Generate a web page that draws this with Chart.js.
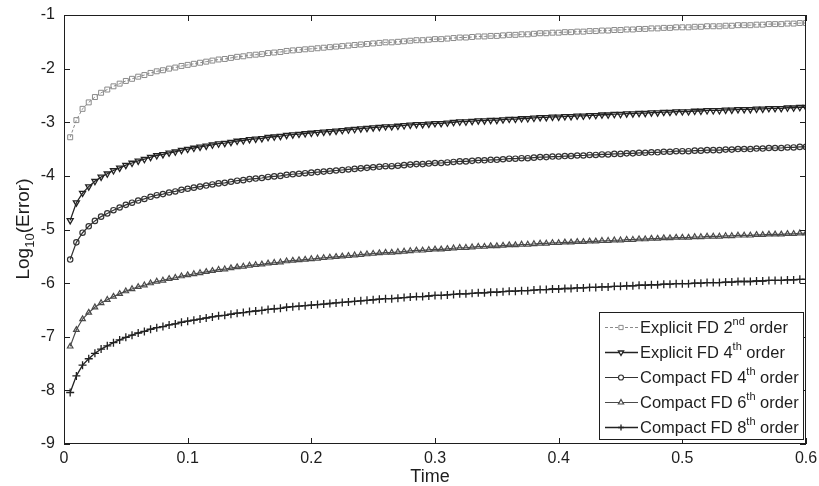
<!DOCTYPE html>
<html>
<head>
<meta charset="utf-8">
<script src="https://cdn.jsdelivr.net/npm/chart.js@4.4.1/dist/chart.umd.min.js"></script>
<style>
  html, body { margin: 0; padding: 0; background: #fff; }
  #wrap { width: 819px; height: 486px; }
</style>
</head>
<body>
<div id="wrap"><canvas id="errChart" width="819" height="486"></canvas></div>
<script>
// ==========================================
// DATA
// ==========================================
const times = [
  0.005, 0.010, 0.015, 0.020, 0.025, 0.030, 0.035, 0.040, 0.045, 0.050,
  0.055, 0.060, 0.065, 0.070, 0.075, 0.080, 0.085, 0.090, 0.095, 0.100,
  0.105, 0.110, 0.115, 0.120, 0.125, 0.130, 0.135, 0.140, 0.145, 0.150,
  0.155, 0.160, 0.165, 0.170, 0.175, 0.180, 0.185, 0.190, 0.195, 0.200,
  0.205, 0.210, 0.215, 0.220, 0.225, 0.230, 0.235, 0.240, 0.245, 0.250,
  0.255, 0.260, 0.265, 0.270, 0.275, 0.280, 0.285, 0.290, 0.295, 0.300,
  0.305, 0.310, 0.315, 0.320, 0.325, 0.330, 0.335, 0.340, 0.345, 0.350,
  0.355, 0.360, 0.365, 0.370, 0.375, 0.380, 0.385, 0.390, 0.395, 0.400,
  0.405, 0.410, 0.415, 0.420, 0.425, 0.430, 0.435, 0.440, 0.445, 0.450,
  0.455, 0.460, 0.465, 0.470, 0.475, 0.480, 0.485, 0.490, 0.495, 0.500,
  0.505, 0.510, 0.515, 0.520, 0.525, 0.530, 0.535, 0.540, 0.545, 0.550,
  0.555, 0.560, 0.565, 0.570, 0.575, 0.580, 0.585, 0.590, 0.595, 0.600
];

const explicit2 = [
  -3.28,-2.96,-2.75,-2.63,-2.53,-2.45,-2.39,-2.33,-2.28,-2.23,
  -2.19,-2.15,-2.12,-2.08,-2.05,-2.03,-2.00,-1.98,-1.95,-1.93,
  -1.91,-1.89,-1.87,-1.85,-1.83,-1.82,-1.80,-1.78,-1.77,-1.75,
  -1.74,-1.73,-1.71,-1.70,-1.69,-1.67,-1.66,-1.65,-1.64,-1.63,
  -1.62,-1.61,-1.60,-1.59,-1.58,-1.57,-1.56,-1.55,-1.54,-1.53,
  -1.52,-1.51,-1.51,-1.50,-1.49,-1.48,-1.47,-1.47,-1.46,-1.45,
  -1.45,-1.44,-1.43,-1.42,-1.42,-1.41,-1.40,-1.40,-1.39,-1.39,
  -1.38,-1.37,-1.37,-1.36,-1.36,-1.35,-1.34,-1.34,-1.33,-1.33,
  -1.32,-1.32,-1.31,-1.31,-1.30,-1.30,-1.29,-1.29,-1.28,-1.28,
  -1.27,-1.27,-1.26,-1.26,-1.25,-1.25,-1.24,-1.24,-1.23,-1.23,
  -1.23,-1.22,-1.22,-1.21,-1.21,-1.21,-1.20,-1.20,-1.19,-1.19,
  -1.19,-1.18,-1.18,-1.17,-1.17,-1.17,-1.16,-1.16,-1.15,-1.15
];

const explicit4 = [
  -4.83,-4.50,-4.32,-4.20,-4.10,-4.02,-3.96,-3.90,-3.85,-3.80,
  -3.76,-3.72,-3.69,-3.65,-3.62,-3.60,-3.57,-3.55,-3.52,-3.50,
  -3.48,-3.46,-3.44,-3.42,-3.40,-3.39,-3.37,-3.35,-3.34,-3.32,
  -3.31,-3.30,-3.28,-3.27,-3.26,-3.24,-3.23,-3.22,-3.21,-3.20,
  -3.19,-3.18,-3.17,-3.16,-3.15,-3.14,-3.13,-3.12,-3.11,-3.10,
  -3.09,-3.08,-3.08,-3.07,-3.06,-3.05,-3.04,-3.04,-3.03,-3.02,
  -3.02,-3.01,-3.00,-2.99,-2.99,-2.98,-2.97,-2.97,-2.96,-2.96,
  -2.95,-2.94,-2.94,-2.93,-2.93,-2.92,-2.91,-2.91,-2.90,-2.90,
  -2.89,-2.89,-2.88,-2.88,-2.87,-2.87,-2.86,-2.86,-2.85,-2.85,
  -2.84,-2.84,-2.83,-2.83,-2.82,-2.82,-2.81,-2.81,-2.80,-2.80,
  -2.80,-2.79,-2.79,-2.78,-2.78,-2.78,-2.77,-2.77,-2.76,-2.76,
  -2.76,-2.75,-2.75,-2.74,-2.74,-2.74,-2.73,-2.73,-2.72,-2.72
];

const compact4 = [
  -5.56,-5.24,-5.06,-4.94,-4.84,-4.76,-4.70,-4.64,-4.59,-4.54,
  -4.50,-4.46,-4.43,-4.39,-4.36,-4.34,-4.31,-4.29,-4.26,-4.24,
  -4.22,-4.20,-4.18,-4.16,-4.14,-4.13,-4.11,-4.09,-4.08,-4.06,
  -4.05,-4.04,-4.02,-4.01,-4.00,-3.98,-3.97,-3.96,-3.95,-3.94,
  -3.93,-3.92,-3.91,-3.90,-3.89,-3.88,-3.87,-3.86,-3.85,-3.84,
  -3.83,-3.82,-3.82,-3.81,-3.80,-3.79,-3.78,-3.78,-3.77,-3.76,
  -3.76,-3.75,-3.74,-3.73,-3.73,-3.72,-3.71,-3.71,-3.70,-3.70,
  -3.69,-3.68,-3.68,-3.67,-3.67,-3.66,-3.65,-3.65,-3.64,-3.64,
  -3.63,-3.63,-3.62,-3.62,-3.61,-3.61,-3.60,-3.60,-3.59,-3.59,
  -3.58,-3.58,-3.57,-3.57,-3.56,-3.56,-3.55,-3.55,-3.54,-3.54,
  -3.54,-3.53,-3.53,-3.52,-3.52,-3.52,-3.51,-3.51,-3.50,-3.50,
  -3.50,-3.49,-3.49,-3.48,-3.48,-3.48,-3.47,-3.47,-3.46,-3.46
];

const compact6 = [
  -7.18,-6.87,-6.67,-6.55,-6.45,-6.37,-6.31,-6.25,-6.20,-6.15,
  -6.11,-6.07,-6.04,-6.00,-5.97,-5.95,-5.92,-5.90,-5.87,-5.85,
  -5.83,-5.81,-5.79,-5.77,-5.75,-5.74,-5.72,-5.70,-5.69,-5.67,
  -5.66,-5.65,-5.63,-5.62,-5.61,-5.59,-5.58,-5.57,-5.56,-5.55,
  -5.54,-5.53,-5.52,-5.51,-5.50,-5.49,-5.48,-5.47,-5.46,-5.45,
  -5.44,-5.43,-5.43,-5.42,-5.41,-5.40,-5.39,-5.39,-5.38,-5.37,
  -5.37,-5.36,-5.35,-5.34,-5.34,-5.33,-5.32,-5.32,-5.31,-5.31,
  -5.30,-5.29,-5.29,-5.28,-5.28,-5.27,-5.26,-5.26,-5.25,-5.25,
  -5.24,-5.24,-5.23,-5.23,-5.22,-5.22,-5.21,-5.21,-5.20,-5.20,
  -5.19,-5.19,-5.18,-5.18,-5.17,-5.17,-5.16,-5.16,-5.15,-5.15,
  -5.15,-5.14,-5.14,-5.13,-5.13,-5.13,-5.12,-5.12,-5.11,-5.11,
  -5.11,-5.10,-5.10,-5.09,-5.09,-5.09,-5.08,-5.08,-5.07,-5.07
];

const compact8 = [
  -8.04,-7.73,-7.53,-7.41,-7.31,-7.23,-7.17,-7.11,-7.06,-7.01,
  -6.97,-6.93,-6.90,-6.86,-6.83,-6.81,-6.78,-6.76,-6.73,-6.71,
  -6.69,-6.67,-6.65,-6.63,-6.61,-6.60,-6.58,-6.56,-6.55,-6.53,
  -6.52,-6.51,-6.49,-6.48,-6.47,-6.45,-6.44,-6.43,-6.42,-6.41,
  -6.40,-6.39,-6.38,-6.37,-6.36,-6.35,-6.34,-6.33,-6.32,-6.31,
  -6.30,-6.29,-6.29,-6.28,-6.27,-6.26,-6.25,-6.25,-6.24,-6.23,
  -6.23,-6.22,-6.21,-6.20,-6.20,-6.19,-6.18,-6.18,-6.17,-6.17,
  -6.16,-6.15,-6.15,-6.14,-6.14,-6.13,-6.12,-6.12,-6.11,-6.11,
  -6.10,-6.10,-6.09,-6.09,-6.08,-6.08,-6.07,-6.07,-6.06,-6.06,
  -6.05,-6.05,-6.04,-6.04,-6.03,-6.03,-6.02,-6.02,-6.01,-6.01,
  -6.01,-6.00,-6.00,-5.99,-5.99,-5.99,-5.98,-5.98,-5.97,-5.97,
  -5.97,-5.96,-5.96,-5.95,-5.95,-5.95,-5.94,-5.94,-5.93,-5.93
];

// legend text pieces: [before superscript, superscript, after]
const legendLabels = [
  ['Explicit FD 2', 'nd', ' order'],
  ['Explicit FD 4', 'th', ' order'],
  ['Compact FD 4', 'th', ' order'],
  ['Compact FD 6', 'th', ' order'],
  ['Compact FD 8', 'th', ' order']
];

const xTicks = [0, 0.1, 0.2, 0.3, 0.4, 0.5, 0.6];
const yTicks = [-1, -2, -3, -4, -5, -6, -7, -8, -9];

const FONT = '"Liberation Sans", Arial, sans-serif';
const INK = '#1e1e1e';

function toPoints(values) {
    return values.map((v, i) => ({ x: times[i], y: v }));
}

// ==========================================
// DATASETS
// ==========================================
const seriesDefs = [
    { data: explicit2, color: '#8a8a8a', width: 1, dash: [3, 2], style: 'rect', radius: 3.5, rot: 0, legR: 3 },
    { data: explicit4, color: '#222222', width: 1.3, dash: [], style: 'triangle', radius: 3.5, rot: 180, legR: 3 },
    { data: compact4, color: '#333333', width: 1.2, dash: [], style: 'circle', radius: 2.7, rot: 0, legR: 2.5 },
    { data: compact6, color: '#4a4a4a', width: 1.2, dash: [], style: 'triangle', radius: 3.2, rot: 0, legR: 3 },
    { data: compact8, color: '#222222', width: 1.3, dash: [], style: 'cross', radius: 4, rot: 0, legR: 3 }
];

const datasets = seriesDefs.map((s, i) => ({
    label: legendLabels[i].join(''),
    data: toPoints(s.data),
    borderColor: s.color,
    backgroundColor: 'rgba(255,255,255,0)',
    borderWidth: s.width,
    borderDash: s.dash,
    pointStyle: s.style,
    pointRadius: s.radius,
    pointRotation: s.rot,
    pointBorderColor: s.color,
    pointBackgroundColor: 'rgba(255,255,255,0)',
    pointBorderWidth: s.width,
    tension: 0,
    fill: false
}));

// ==========================================
// PLUGIN: box, inward ticks, titles, legend
// ==========================================
const matlabFrame = {
    id: 'matlabFrame',
    afterDraw(chart) {
        const ctx = chart.ctx;
        const a = chart.chartArea;
        const xs = chart.scales.x;
        const ys = chart.scales.y;
        ctx.save();

        // axes box
        ctx.strokeStyle = INK;
        ctx.lineWidth = 1;
        ctx.strokeRect(a.left + 0.5, a.top + 0.5, a.right - a.left - 1, a.bottom - a.top - 1);

        // inward ticks
        const tl = 6;
        ctx.beginPath();
        xTicks.forEach(v => {
            const px = Math.round(xs.getPixelForValue(v)) + 0.5;
            ctx.moveTo(px, a.bottom); ctx.lineTo(px, a.bottom - tl);
            ctx.moveTo(px, a.top); ctx.lineTo(px, a.top + tl);
        });
        yTicks.forEach(v => {
            const py = Math.round(ys.getPixelForValue(v)) + 0.5;
            ctx.moveTo(a.left, py); ctx.lineTo(a.left + tl, py);
            ctx.moveTo(a.right, py); ctx.lineTo(a.right - tl, py);
        });
        ctx.stroke();

        // x title
        ctx.fillStyle = INK;
        ctx.font = '18px ' + FONT;
        ctx.textAlign = 'center';
        ctx.textBaseline = 'alphabetic';
        ctx.fillText('Time', 430, 482);

        // y title with subscript, rotated
        ctx.save();
        ctx.translate(29, 229);
        ctx.rotate(-Math.PI / 2);
        const big = '19px ' + FONT;
        const small = '13px ' + FONT;
        ctx.font = big;
        const w1 = ctx.measureText('Log').width;
        const w3 = ctx.measureText('(Error)').width;
        ctx.font = small;
        const w2 = ctx.measureText('10').width;
        let x0 = -(w1 + w2 + w3) / 2;
        ctx.textAlign = 'left';
        ctx.font = big;
        ctx.fillText('Log', x0, 0);
        ctx.font = small;
        ctx.fillText('10', x0 + w1, 5);
        ctx.font = big;
        ctx.fillText('(Error)', x0 + w1 + w2, 0);
        ctx.restore();

        // legend box
        const lx = 599, ly = 312, lw = 204, lh = 127;
        ctx.fillStyle = '#fff';
        ctx.fillRect(lx, ly, lw, lh);
        ctx.strokeStyle = INK;
        ctx.strokeRect(lx + 0.5, ly + 0.5, lw, lh);

        const rowH = 25;
        legendLabels.forEach((parts, i) => {
            const s = seriesDefs[i];
            const cy = ly + 15 + i * rowH;
            // sample line
            ctx.strokeStyle = s.color;
            ctx.lineWidth = s.width;
            ctx.setLineDash(s.dash);
            ctx.beginPath();
            ctx.moveTo(lx + 6, cy + 0.5);
            ctx.lineTo(lx + 39, cy + 0.5);
            ctx.stroke();
            ctx.setLineDash([]);
            ctx.fillStyle = '#fff';
            Chart.helpers.drawPoint(ctx, {
                pointStyle: s.style,
                radius: s.legR,
                rotation: s.rot,
                borderWidth: 1
            }, lx + 22, cy + 0.5);
            ctx.lineWidth = 1;
            // label with superscript
            ctx.fillStyle = INK;
            ctx.textAlign = 'left';
            ctx.textBaseline = 'middle';
            let tx = lx + 41;
            ctx.font = '16.5px ' + FONT;
            ctx.fillText(parts[0], tx, cy + 1);
            tx += ctx.measureText(parts[0]).width;
            ctx.font = '11px ' + FONT;
            ctx.fillText(parts[1], tx, cy - 5);
            tx += ctx.measureText(parts[1]).width;
            ctx.font = '16.5px ' + FONT;
            ctx.fillText(parts[2], tx, cy + 1);
        });

        ctx.restore();
    }
};

// ==========================================
// CHART
// ==========================================
function createErrorChart() {
    const ctx = document.getElementById('errChart').getContext('2d');
    return new Chart(ctx, {
        type: 'line',
        data: { datasets },
        options: {
            responsive: false,
            animation: false,
            layout: { padding: { top: 15, right: 13, left: 0, bottom: 0 } },
            scales: {
                x: {
                    type: 'linear',
                    min: 0,
                    max: 0.6,
                    afterBuildTicks: s => { s.ticks = xTicks.map(v => ({ value: v })); },
                    afterFit: s => { s.height = 42; },
                    grid: { display: false },
                    border: { display: false },
                    ticks: {
                        color: INK,
                        padding: -3,
                        maxRotation: 0,
                        font: { family: FONT, size: 16 },
                        callback: v => String(v)
                    }
                },
                y: {
                    type: 'linear',
                    min: -9,
                    max: -1,
                    afterBuildTicks: s => { s.ticks = yTicks.map(v => ({ value: v })); },
                    afterFit: s => { s.width = 64; },
                    grid: { display: false },
                    border: { display: false },
                    ticks: {
                        color: INK,
                        padding: 1,
                        font: { family: FONT, size: 16 },
                        callback: v => String(v)
                    }
                }
            },
            plugins: {
                legend: { display: false },
                tooltip: { enabled: false }
            }
        },
        plugins: [matlabFrame]
    });
}

createErrorChart();
</script>
</body>
</html>
